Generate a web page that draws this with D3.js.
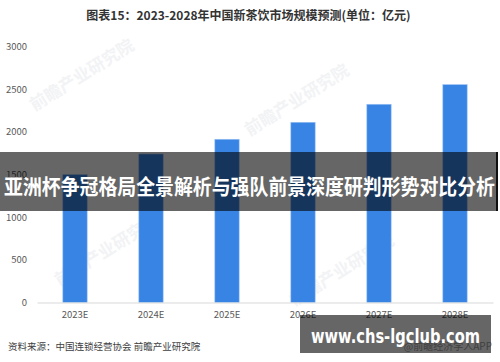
<!DOCTYPE html>
<html><head><meta charset="utf-8">
<script src="https://cdn.jsdelivr.net/npm/d3@7/dist/d3.min.js"></script>
<style>body{margin:0;background:#fff}svg{display:block}</style>
</head><body>
<svg id="c" width="500" height="362"></svg>
<script>
const categories = ["2023E","2024E","2025E","2026E","2027E","2028E"];
const values = [1498, 1740, 1913, 2112, 2323, 2553];
const yTicks = [0, 500, 1000, 1500, 2000, 2500, 3000];
const title = "图表15：2023-2028年中国新茶饮市场规模预测(单位：亿元)";
const source = "资料来源：中国连锁经营协会 前瞻产业研究院";
const credit = "@前瞻经济学人APP";
const banner = "亚洲杯争冠格局全景解析与强队前景深度研判形势对比分析";
const site = "www.chs-lgclub.com";
const watermark = "前瞻产业研究院";

const svg = d3.select("#c");
const font = "'Noto Sans CJK SC','Noto Sans',sans-serif";

// watermarks
const wm = [[85,80],[300,105],[110,255],[345,275]];
svg.selectAll("text.wm").data(wm).enter().append("text")
  .attr("transform", d => `translate(${d[0]},${d[1]}) rotate(-32)`)
  .attr("text-anchor","middle").attr("font-family",font).attr("font-weight","bold")
  .attr("font-size",17).attr("fill","#f2f3f5").text(watermark);

const x = d3.scaleBand().domain(categories).range([37, 493]).paddingInner(0.68).paddingOuter(0.34);
const y = d3.scaleLinear().domain([0, 3000]).range([302.5, 46.5]);

// title
svg.append("text").attr("x", 248.5).attr("y", 19.5).attr("text-anchor","middle")
  .attr("font-family",font).attr("font-weight","bold").attr("font-size",12)
  .attr("fill","#333").text(title);

// y axis labels
const yAxis = d3.axisLeft(y).tickValues(yTicks).tickSize(0).tickPadding(0).tickFormat(d3.format("d"));
const ga = svg.append("g").attr("transform","translate(27,0)").call(yAxis);
ga.select(".domain").remove();
ga.selectAll("text").attr("font-family",font).attr("font-size",9.5).attr("fill","#595959");

// bars
svg.selectAll("rect.bar").data(values).enter().append("rect")
  .attr("x",(d,i)=>x(categories[i])).attr("width",x.bandwidth())
  .attr("y",d=>y(d)).attr("height",d=>y(0)-y(d))
  .attr("fill","#3784e5").attr("stroke","#9cc2f2").attr("stroke-width",0.6);

// x axis
const xAxis = d3.axisBottom(x).tickSize(0).tickPadding(9);
const gx = svg.append("g").attr("transform",`translate(0,${y(0)})`).call(xAxis);
gx.select(".domain").attr("stroke","#d9d9d9");
gx.selectAll("text").attr("font-family",font).attr("font-size",9.5).attr("fill","#595959");

// source
svg.append("text").attr("x",8).attr("y",349.5).attr("font-family",font)
  .attr("font-size",9.5).attr("fill","#404040").text(source);
svg.append("text").attr("x",492).attr("y",350).attr("text-anchor","end").attr("font-family",font)
  .attr("font-size",10).attr("fill","#a0a0a0").text(credit);

// overlay banners
svg.append("rect").attr("x",0).attr("y",152).attr("width",496).attr("height",59)
  .attr("fill","rgba(0,0,0,0.6)");
svg.append("rect").attr("x",496).attr("y",152).attr("width",2).attr("height",59).attr("fill","#111");
svg.append("text").attr("x",4).attr("y",194).attr("font-family",font).attr("font-weight","bold")
  .attr("font-size",21).attr("fill","#fff").attr("textLength",491).attr("lengthAdjust","spacingAndGlyphs")
  .text(banner);

svg.append("rect").attr("x",300).attr("y",315).attr("width",191).attr("height",38)
  .attr("fill","rgba(0,0,0,0.6)");
svg.append("text").attr("x",311).attr("y",343).attr("font-family","'DejaVu Sans',sans-serif").attr("font-weight","bold")
  .attr("font-size",19).attr("fill","#fff").attr("textLength",169).attr("lengthAdjust","spacingAndGlyphs")
  .text(site);
</script>
</body></html>
